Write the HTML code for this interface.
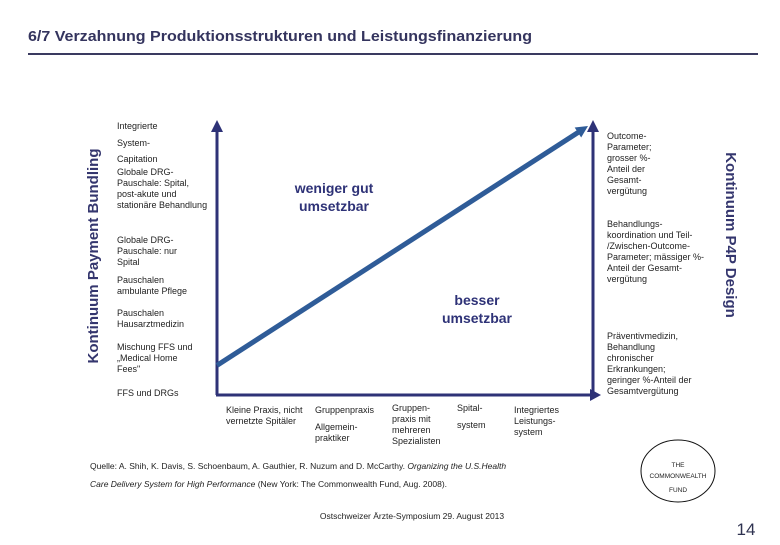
<!DOCTYPE html>
<html><head><meta charset="utf-8"><style>
body{margin:0;background:#fff;width:780px;height:540px;overflow:hidden;font-family:"Liberation Sans",sans-serif}
svg text{font-family:"Liberation Sans",sans-serif}
</style></head><body>
<svg width="780" height="540" viewBox="0 0 780 540">
<text x="28" y="41" font-size="15" font-weight="bold" fill="#34345e" textLength="504" lengthAdjust="spacingAndGlyphs">6/7 Verzahnung Produktionsstrukturen und Leistungsfinanzierung</text>
<rect x="28" y="53" width="730" height="2" fill="#3a3a60"/>

<g>
<line x1="217" y1="395" x2="217" y2="130" stroke="#2e3277" stroke-width="3"/>
<polygon points="211,132 223,132 217,120" fill="#2e3277"/>
<line x1="216" y1="395" x2="592" y2="395" stroke="#2e3277" stroke-width="3"/>
<polygon points="590,389 590,401 601,395" fill="#2e3277"/>
<line x1="593" y1="395" x2="593" y2="130" stroke="#2e3277" stroke-width="3"/>
<polygon points="587,132 599,132 593,120" fill="#2e3277"/>
<g id="series"></g>
</g>

<text transform="translate(98,256) rotate(-90)" text-anchor="middle" font-size="15" fill="#34366e" font-weight="bold">Kontinuum Payment Bundling</text>
<text transform="translate(726,235) rotate(90)" text-anchor="middle" font-size="15" fill="#34366e" font-weight="bold">Kontinuum P4P Design</text>

<g font-size="9" fill="#222">
<text x="117" y="129">Integrierte</text>
<text x="117" y="146">System-</text>
<text x="117" y="162">Capitation</text>
<text x="117" y="175">Globale DRG-</text><text x="117" y="186">Pauschale: Spital,</text><text x="117" y="197">post-akute und</text><text x="117" y="208">stationäre Behandlung</text>
<text x="117" y="243">Globale DRG-</text><text x="117" y="254">Pauschale: nur</text><text x="117" y="265">Spital</text>
<text x="117" y="283">Pauschalen</text><text x="117" y="294">ambulante Pflege</text>
<text x="117" y="316">Pauschalen</text><text x="117" y="327">Hausarztmedizin</text>
<text x="117" y="350">Mischung FFS und</text><text x="117" y="361">„Medical Home</text><text x="117" y="372">Fees"</text>
<text x="117" y="396">FFS und DRGs</text>
</g>

<g font-size="9" fill="#222">
<text x="607" y="139">Outcome-</text><text x="607" y="150">Parameter;</text><text x="607" y="161">grosser %-</text><text x="607" y="172">Anteil der</text><text x="607" y="183">Gesamt-</text><text x="607" y="194">vergütung</text>
<text x="607" y="227">Behandlungs-</text><text x="607" y="238">koordination und Teil-</text><text x="607" y="249">/Zwischen-Outcome-</text><text x="607" y="260">Parameter; mässiger %-</text><text x="607" y="271">Anteil der Gesamt-</text><text x="607" y="282">vergütung</text>
<text x="607" y="339">Präventivmedizin,</text><text x="607" y="350">Behandlung</text><text x="607" y="361">chronischer</text><text x="607" y="372">Erkrankungen;</text><text x="607" y="383">geringer %-Anteil der</text><text x="607" y="394">Gesamtvergütung</text>
</g>

<g font-size="9" fill="#222">
<text x="226" y="413">Kleine Praxis, nicht</text><text x="226" y="424">vernetzte Spitäler</text>
<text x="315" y="413">Gruppenpraxis</text><text x="315" y="430">Allgemein-</text><text x="315" y="441">praktiker</text>
<text x="392" y="411">Gruppen-</text><text x="392" y="422">praxis mit</text><text x="392" y="433">mehreren</text><text x="392" y="444">Spezialisten</text>
<text x="457" y="411">Spital-</text><text x="457" y="428">system</text>
<text x="514" y="413">Integriertes</text><text x="514" y="424">Leistungs-</text><text x="514" y="435">system</text>
</g>

<text x="334" y="193" text-anchor="middle" font-size="14" font-weight="bold" fill="#2e3277"><tspan x="334">weniger gut</tspan><tspan x="334" dy="18">umsetzbar</tspan></text>
<text x="477" y="305" text-anchor="middle" font-size="14" font-weight="bold" fill="#2e3277"><tspan x="477">besser</tspan><tspan x="477" dy="18">umsetzbar</tspan></text>

<g font-size="8.5" fill="#222">
<text x="90" y="469">Quelle: A. Shih, K. Davis, S. Schoenbaum, A. Gauthier, R. Nuzum and D. McCarthy. <tspan font-style="italic">Organizing the U.S.Health</tspan></text>
<text x="90" y="487"><tspan font-style="italic">Care Delivery System for High Performance</tspan> (New York: The Commonwealth Fund, Aug. 2008).</text>
</g>
<text x="412" y="519" text-anchor="middle" font-size="8.5" fill="#222">Ostschweizer Ärzte-Symposium 29. August 2013</text>

<g>
<ellipse cx="678" cy="471" rx="37" ry="31" fill="none" stroke="#111" stroke-width="1"/>
<g font-size="6.5" fill="#222" text-anchor="middle"><text x="678" y="467">THE</text><text x="678" y="478">COMMONWEALTH</text><text x="678" y="492">FUND</text></g>
</g>
<text x="746" y="535" text-anchor="middle" font-size="17" fill="#2e3250">14</text>
</svg>
<script>
const xLevels = [0, 1];
const yLevels = [0.11, 1];
const ns = "http://www.w3.org/2000/svg";
const X0 = 217, X1 = 588, Y0 = 395, Y1 = 126;
function xs(v){ return X0 + v * (X1 - X0); }
function ys(v){ return Y0 - v * (Y0 - Y1); }
const g = document.getElementById('series');
const ln = document.createElementNS(ns, 'line');


ln.setAttribute('x1', xs(xLevels[0])); ln.setAttribute('y1', ys(yLevels[0]));
const x2 = xs(xLevels[1]), y2 = ys(yLevels[1]);
const ang = Math.atan2(y2 - ys(yLevels[0]), x2 - xs(xLevels[0]));
ln.setAttribute('x2', x2 - 8 * Math.cos(ang)); ln.setAttribute('y2', y2 - 8 * Math.sin(ang));
ln.setAttribute('stroke', '#2f5c98'); ln.setAttribute('stroke-width', '5');
g.appendChild(ln);
const head = document.createElementNS(ns, 'polygon');


const c = Math.cos(ang), s = Math.sin(ang);
const bx = x2 - 12 * c, by = y2 - 12 * s;
head.setAttribute('points', `${x2},${y2} ${bx - 6 * s},${by + 6 * c} ${bx + 6 * s},${by - 6 * c}`);
head.setAttribute('fill', '#2f5c98');
g.appendChild(head);
</script>
</body></html>
